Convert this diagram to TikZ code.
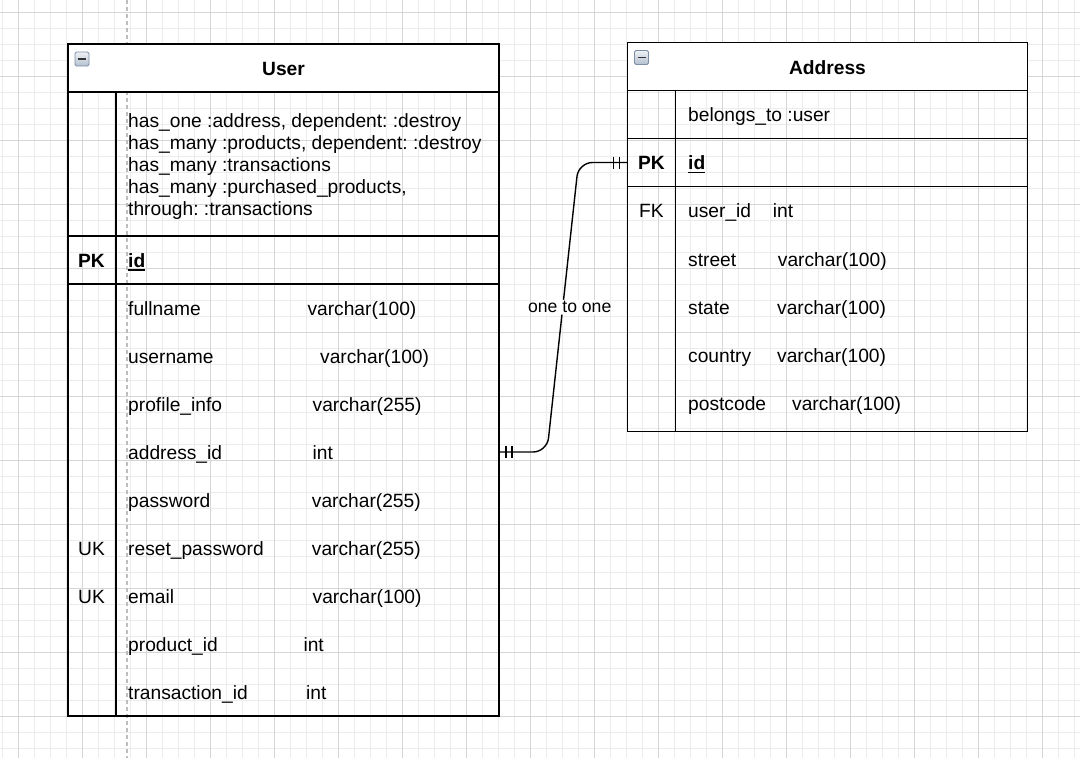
\documentclass[tikz,border=0pt]{standalone}
\usepackage{fontspec}
\setmainfont{Liberation Sans}
\usetikzlibrary{calc}
\definecolor{gridminor}{HTML}{ECECEC}
\definecolor{gridmajor}{HTML}{D6D6D6}
\definecolor{dashcol}{HTML}{BDBDBD}
\definecolor{iconborder}{HTML}{7E8EA4}
\definecolor{icontop}{HTML}{EEF1F5}
\definecolor{iconbot}{HTML}{B3C0D0}
\newcommand\myul[1]{\setbox0\hbox{#1}\rlap{\rule[-3.8pt]{\wd0}{1.4pt}}\box0}
\tikzset{
  tbl/.style={draw=black, line width=1.4pt, inner sep=0pt, outer sep=0pt},
  tline/.style={draw=black, line width=1.4pt},
  rowbox/.style={inner sep=0pt, outer sep=0pt, minimum height=48pt},
  txt/.style={font=\fontsize{19.2}{22}\selectfont, inner sep=0pt, anchor=base west},
  keytxt/.style={font=\fontsize{19.2}{22}\selectfont, inner sep=0pt, anchor=base},
  headtxt/.style={font=\fontsize{19.2}{22}\selectfont\bfseries, inner sep=0pt, anchor=base},
  conn/.style={draw=black, line width=1.4pt},
  lbl/.style={font=\fontsize{17.6}{20}\selectfont, fill=white, inner sep=1.5pt},
  iconbox/.style={draw=iconborder, line width=0.8pt, top color=icontop, bottom color=iconbot, rounded corners=1.5pt},
  iconminus/.style={draw=black!80, line width=1.6pt}
}
\begin{document}
\frenchspacing
\begin{tikzpicture}[x=1pt,y=-1pt]
\useasboundingbox (0,0) rectangle (1080,758);
\fill[white] (0,0) rectangle (1080,758);
% grid
\foreach \x in {2,18,...,1074} \draw[gridminor, line width=1pt] (\x,0) -- (\x,758);
\foreach \y in {12,28,...,748} \draw[gridminor, line width=1pt] (0,\y) -- (1080,\y);
\foreach \x in {18,82,...,1042} \draw[gridmajor, line width=1pt] (\x,0) -- (\x,758);
\foreach \y in {12,76,...,716} \draw[gridmajor, line width=1pt] (0,\y) -- (1080,\y);
% dashed guide
\draw[dashcol, line width=1.2pt, dash pattern=on 4pt off 3pt] (127,0) -- (127,758);

% ===== User table =====
\node[tbl, minimum width=431pt, minimum height=672pt] (user) at (283.5,380) {};
\node[tbl, fill=white, minimum width=431pt, minimum height=48pt] (userhead) at (283.5,68) {};
\draw[tline] (68,236) -- (499,236);
\draw[tline] (68,284) -- (499,284);
\draw[tline] (116,92) -- (116,716);
\path[iconbox] ($(userhead.north west)+(7,8)$) rectangle ($(userhead.north west)+(21,22)$);
\draw[iconminus] ($(userhead.north west)+(10,15)$) -- ($(userhead.north west)+(18,15)$);
\node[headtxt] (usertitle) at (283.5,75) {User};

\node[txt] (urel1) at (128,127.3) {has\_one :address, dependent: :destroy};
\node[txt] (urel2) at (128,149.2) {has\_many :products, dependent: :destroy};
\node[txt] (urel3) at (128,171.1) {has\_many :transactions};
\node[txt] (urel4) at (128,193) {has\_many :purchased\_products,};
\node[txt] (urel5) at (128,215) {through: :transactions};

\node[keytxt, font=\fontsize{19.2}{22}\selectfont\bfseries] (upk) at (91.5,267) {PK};
\node[txt, font=\fontsize{19.2}{22}\selectfont\bfseries] (uid) at (128,267) {\myul{id}};

\node[txt] (un1) at (128,315) {fullname};       \node[txt] (ut1) at (307.3,315) {varchar(100)};
\node[txt] (un2) at (128,363) {username};       \node[txt] (ut2) at (320,363) {varchar(100)};
\node[txt] (un3) at (128,411) {profile\_info};  \node[txt] (ut3) at (312.5,411) {varchar(255)};
\node[txt] (un4) at (128,459) {address\_id};    \node[txt] (ut4) at (312.5,459) {int};
\node[txt] (un5) at (128,507) {password};       \node[txt] (ut5) at (311.7,507) {varchar(255)};
\node[txt] (un6) at (128,555) {reset\_password};\node[txt] (ut6) at (311.7,555) {varchar(255)};
\node[txt] (un7) at (128,603) {email};          \node[txt] (ut7) at (312.5,603) {varchar(100)};
\node[txt] (un8) at (128,651) {product\_id};    \node[txt] (ut8) at (303.3,651) {int};
\node[txt] (un9) at (128,699) {transaction\_id};\node[txt] (ut9) at (306,699) {int};
\node[keytxt] (uk1) at (91.5,555) {UK};
\node[keytxt] (uk2) at (91.5,603) {UK};

\node[rowbox, minimum width=431pt] (uaddrid) at (283.5,452) {};

% ===== Address table =====
\node[tbl, minimum width=400pt, minimum height=389pt] (addr) at (827.5,237) {};
\node[tbl, fill=white, minimum width=400pt, minimum height=48pt] (addrhead) at (827.5,66.5) {};
\draw[tline] (627.5,138.5) -- (1027.5,138.5);
\draw[tline] (627.5,186.5) -- (1027.5,186.5);
\draw[tline] (675.5,90.5) -- (675.5,431.5);
\path[iconbox] ($(addrhead.north west)+(7,8)$) rectangle ($(addrhead.north west)+(21,22)$);
\draw[iconminus] ($(addrhead.north west)+(10,15)$) -- ($(addrhead.north west)+(18,15)$);
\node[headtxt] (addrtitle) at (827.5,74) {Address};

\node[txt] (arel) at (688,121.5) {belongs\_to :user};
\node[keytxt, font=\fontsize{19.2}{22}\selectfont\bfseries] (apkt) at (651.5,169.5) {PK};
\node[txt, font=\fontsize{19.2}{22}\selectfont\bfseries] (aid) at (688,169.5) {\myul{id}};
\node[keytxt] (afk) at (651.5,217.7) {FK};
\node[txt] (an1) at (688,217.7) {user\_id};   \node[txt] (at1) at (772.7,217.7) {int};
\node[txt] (an2) at (688,266) {street};       \node[txt] (at2) at (777.7,266) {varchar(100)};
\node[txt] (an3) at (688,314) {state};        \node[txt] (at3) at (777,314) {varchar(100)};
\node[txt] (an4) at (688,362) {country};      \node[txt] (at4) at (777,362) {varchar(100)};
\node[txt] (an5) at (688,410) {postcode};     \node[txt] (at5) at (792,410) {varchar(100)};

\node[rowbox, minimum width=400pt] (apk) at (827.5,162.5) {};

% ===== connector =====
\draw[conn, rounded corners=14pt] (uaddrid.east) -- ++(48,0)
   -- node[lbl, xshift=7pt] (rellabel) {one to one} ($(apk.west)+(-49,0)$) -- (apk.west);
\draw[conn] ($(uaddrid.east)+(7,-6)$) -- ++(0,12);
\draw[conn] ($(uaddrid.east)+(13,-6)$) -- ++(0,12);
\draw[conn] ($(apk.west)+(-14,-6)$) -- ++(0,12);
\draw[conn] ($(apk.west)+(-8,-6)$) -- ++(0,12);
\end{tikzpicture}
\end{document}
